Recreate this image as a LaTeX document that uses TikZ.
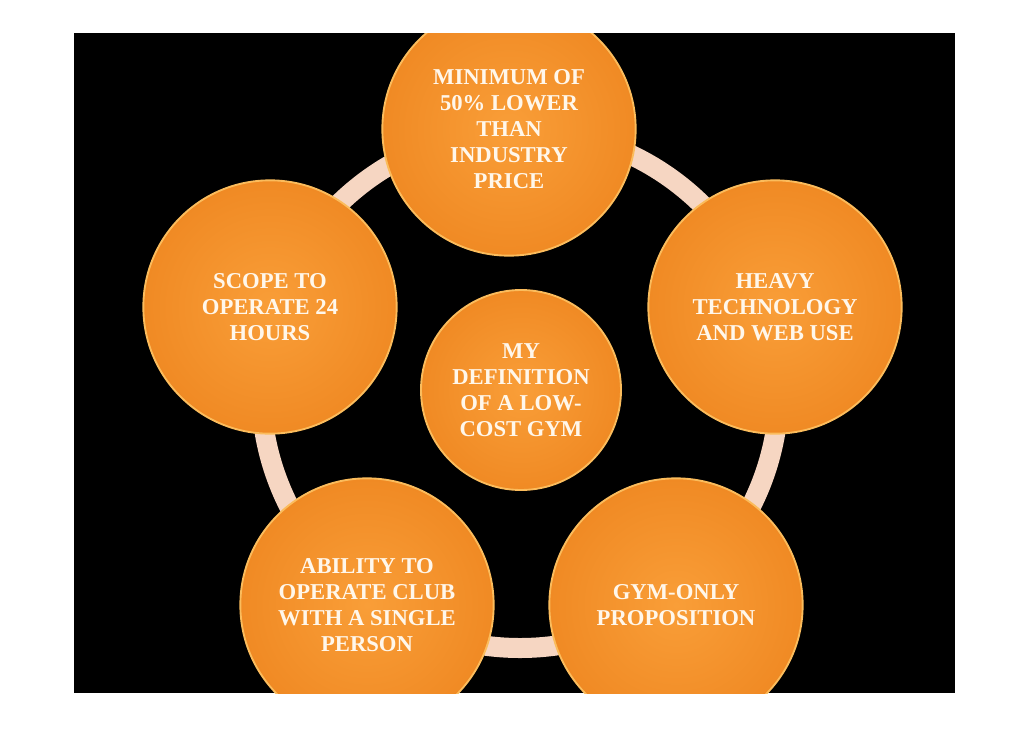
\documentclass[tikz,border=0pt]{standalone}
\usepackage{fontspec}
\setmainfont{Liberation Serif}
\usepackage{xcolor}
\usetikzlibrary{positioning, calc}
\definecolor{gymorange}{RGB}{249,158,56}
\definecolor{gymdeep}{RGB}{240,138,36}
\definecolor{gymrim}{RGB}{251,188,92}
\definecolor{ringpeach}{RGB}{246,214,194}
\definecolor{labelwhite}{RGB}{255,247,235}
\newlength{\Spoke}
\setlength\Spoke{190pt}

\begin{document}
\begin{tikzpicture}[
    x = 0.75pt, y = -0.75pt, align = center,
    spoke/.style = {
      circle, draw = gymrim, line width = 1.4pt, inner sep = 0pt,
      shading = radial, inner color = gymorange, outer color = gymdeep,
      minimum size = \Spoke, text = labelwhite,
      font = \bfseries\fontsize{17}{19.5}\selectfont
    },
    hub/.style = {
      spoke, minimum size = 150pt
    },
    ring/.style = {
      draw = ringpeach, line width = 15pt
    },
    ]

    % page and black panel
    \useasboundingbox  (0,0)  rectangle  (1030,728);
    \fill  [white]  (0,0)  rectangle  (1030,728);
    \fill  [black]  (74,33)  rectangle  (955,693);
    \coordinate  (mid)  at  (520,389);

    \begin{scope}
    \clip  (74,33)  rectangle  (955,693);

    % draw ring behind the circles
    \draw  [ring]  (mid)  circle  [radius = 259];

    % draw outer circles
    \node  [spoke]  (price)  at  (509,129)  {MINIMUM OF\\50\% LOWER\\THAN\\INDUSTRY\\PRICE};
    \node  [spoke]  (hours)  at  (270,307)  {SCOPE TO\\OPERATE 24\\HOURS};
    \node  [spoke]  (web)  at  (775,307)  {HEAVY\\TECHNOLOGY\\AND WEB USE};
    \node  [spoke]  (single)  at  (367,605)  {ABILITY TO\\OPERATE CLUB\\WITH A SINGLE\\PERSON};
    \node  [spoke]  (gymonly)  at  (676,605)  {GYM-ONLY\\PROPOSITION};

    % draw centre circle
    \node  [hub]  (lowcost)  at  (521,390)  {MY\\DEFINITION\\OF A LOW-\\COST GYM};
    \end{scope}

\end{tikzpicture}
\end{document}
